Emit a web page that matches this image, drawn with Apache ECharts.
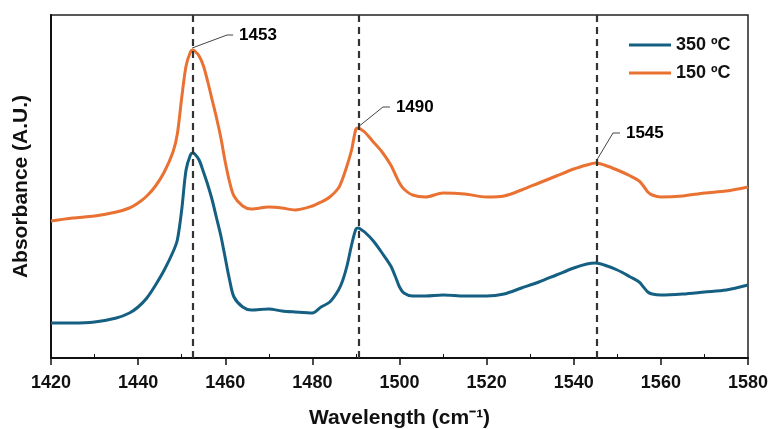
<!DOCTYPE html>
<html><head><meta charset="utf-8">
<script src="https://cdn.jsdelivr.net/npm/echarts@6/dist/echarts.min.js"></script>
<style>html,body{margin:0;padding:0;background:#fff}#c{width:775px;height:429px}</style>
</head><body><div id="c"></div>
<script>
const wavenumbers = [1420,1425,1430,1435,1438,1440,1442,1444,1446,1448,1449,1450,1451,1452,1452.5,1453,1454,1455,1456,1457,1458,1459,1460,1461,1462,1464,1466,1470,1473,1476,1480,1482,1484,1486,1487,1488,1489,1490,1490.6,1491,1492,1494,1496,1498,1499,1500,1501,1503,1506,1510,1515,1520,1524,1528,1532,1536,1540,1543,1545,1547,1550,1553,1555,1556,1557,1558,1560,1565,1570,1575,1580];
const abs150 = [1.37,1.40,1.42,1.46,1.50,1.55,1.62,1.72,1.86,2.06,2.24,2.60,2.92,3.06,3.08,3.07,3.02,2.92,2.76,2.58,2.40,2.20,1.96,1.76,1.62,1.52,1.49,1.51,1.50,1.48,1.52,1.56,1.61,1.70,1.80,1.93,2.08,2.29,2.30,2.29,2.26,2.16,2.06,1.93,1.84,1.75,1.69,1.63,1.61,1.65,1.64,1.61,1.62,1.68,1.75,1.82,1.89,1.93,1.95,1.93,1.88,1.82,1.77,1.72,1.66,1.63,1.61,1.62,1.65,1.67,1.71];
const abs350 = [0.35,0.35,0.36,0.40,0.45,0.51,0.60,0.73,0.88,1.06,1.18,1.48,1.88,2.03,2.05,2.04,1.98,1.86,1.73,1.58,1.40,1.22,1.00,0.78,0.61,0.51,0.48,0.49,0.47,0.46,0.45,0.51,0.56,0.68,0.78,0.93,1.13,1.29,1.30,1.29,1.26,1.17,1.05,0.92,0.82,0.71,0.65,0.62,0.62,0.63,0.62,0.62,0.64,0.70,0.76,0.83,0.90,0.94,0.95,0.93,0.88,0.81,0.76,0.71,0.66,0.64,0.63,0.64,0.66,0.68,0.73];
const peakLines = [1452.5, 1490.7, 1545.3];
const peakLabels = ['1453', '1490', '1545'];
const leaderWn = [[1452.4,1460.4,1461.8],[1490.5,1496.2,1497.8],[1545.3,1549.0,1550.6]];
const leaderAbs = [[3.10,3.23,3.23],[2.31,2.51,2.51],[1.98,2.25,2.25]];
const xTicks = [1420,1440,1460,1480,1500,1520,1540,1560,1580];
const xMinorTicks = [1430,1450,1470,1490,1510,1530,1550,1570];

const FONT = '"Liberation Sans", Arial, sans-serif';
const pair = (xs, ys) => xs.map((x, i) => [x, ys[i]]);

const series = [
  {name:'350 ºC', type:'line', data:pair(wavenumbers, abs350), smooth:0.3, showSymbol:false,
   lineStyle:{color:'#156082', width:3}, itemStyle:{color:'#156082'}, z:3},
  {name:'150 ºC', type:'line', data:pair(wavenumbers, abs150), smooth:0.3, showSymbol:false,
   lineStyle:{color:'#E97132', width:3}, itemStyle:{color:'#E97132'}, z:3,
   markLine:{silent:true, symbol:'none', label:{show:false},
     lineStyle:{color:'#333', width:2.2, type:[7,5]},
     data: peakLines.map(v => ({xAxis: v}))}}
];
peakLabels.forEach((lab, k) => {
  series.push({name:'lead'+k, type:'line', data:pair(leaderWn[k], leaderAbs[k]), showSymbol:false,
    lineStyle:{color:'#444', width:1}, silent:true, z:4,
    endLabel:{show:true, formatter:lab, color:'#000', fontFamily:FONT, fontWeight:'bold', fontSize:17, distance:6}});
});

const chart = echarts.init(document.getElementById('c'), null, {renderer:'canvas'});
chart.setOption({
  animation:false,
  backgroundColor:'#fff',
  grid:{left:51, right:27, top:15, bottom:71, show:true, borderColor:'#222', borderWidth:1.5, outerBoundsMode:'none', containLabel:false},
  legend:{data:['350 ºC','150 ºC'], orient:'vertical', left:624, top:31, icon:'rect', itemWidth:42, itemHeight:3, itemGap:10,
    textStyle:{fontFamily:FONT, fontWeight:'bold', fontSize:18, color:'#111'}},
  xAxis:[{type:'value', min:1420, max:1580, interval:20,
    axisLine:{show:true, lineStyle:{color:'#111', width:2}},
    axisTick:{show:true, inside:false, length:7, lineStyle:{color:'#111', width:1.5}},
    axisLabel:{fontFamily:FONT, fontWeight:'bold', fontSize:18, color:'#111', margin:16, formatter:v => String(v)},
    splitLine:{show:false},
    name:'Wavelength (cm⁻¹)', nameLocation:'middle', nameGap:50,
    nameTextStyle:{fontFamily:FONT, fontWeight:'bold', fontSize:21, color:'#111'}},
   {type:'value', min:1420, max:1580, position:'bottom', interval:10,
    axisLine:{show:false}, axisLabel:{show:false}, splitLine:{show:false},
    axisTick:{show:true, inside:true, length:4, customValues:xMinorTicks, lineStyle:{color:'#111', width:1}}}],
  yAxis:{type:'value', min:0, max:3.43,
    axisLine:{show:true, lineStyle:{color:'#111', width:2}},
    axisTick:{show:false}, axisLabel:{show:false}, splitLine:{show:false},
    name:'Absorbance (A.U.)', nameLocation:'middle', nameGap:19,
    nameTextStyle:{fontFamily:FONT, fontWeight:'bold', fontSize:21, color:'#111'}},
  series
});
</script></body></html>
